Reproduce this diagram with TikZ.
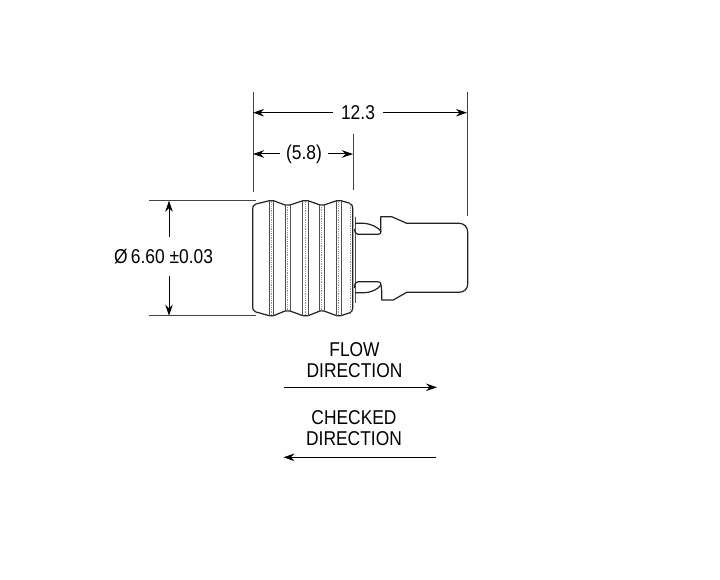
\documentclass[tikz,border=0pt]{standalone}
\usepackage{fontspec}
\setmainfont[FakeStretch=0.87]{Liberation Sans}
\usetikzlibrary{arrows.meta}
\definecolor{ink}{HTML}{222222}
\tikzset{
  outline/.style={draw=ink,line width=1.2pt,line join=round},
  rib/.style={draw=ink!80,line width=1pt},
  hatch/.style={draw=ink!50,line width=0.8pt,densely dotted},
  ext/.style={draw=ink!85,line width=1pt},
  dimline/.style={draw=black,line width=1pt,-{Stealth[length=11pt,width=7.5pt]}},
  dimtext/.style={font=\fontsize{20}{21}\selectfont,inner ysep=0pt,inner xsep=6pt,align=center,text=black}
}
\begin{document}
\begin{tikzpicture}[x=1pt,y=-1pt]
\useasboundingbox[fill=white] (0,0) rectangle (720,580);
% connector body
\draw[outline,fill=white] (252.7,210) .. controls (252.7,206) and (253.5,205) .. (256,204)
 -- (269.3,200.7) -- (273.5,200.7) -- (285,205) -- (290,205) -- (303,200.7) -- (308,200.7)
 -- (320,205) -- (324,205) -- (336.7,200.7) -- (341,200.7) -- (349,203) .. controls (351.5,204) and (352.7,205) .. (352.7,208)
 -- (352.7,308) .. controls (352.7,311) and (351.5,312) .. (349,313) -- (341,315.7) -- (336.7,315.7) -- (324,311) -- (320,311)
 -- (308,315.7) -- (303,315.7) -- (290,311) -- (285,311) -- (273.5,315.7) -- (269.3,315.7) -- (256,312)
 .. controls (253.5,311) and (252.7,310) .. (252.7,306) -- cycle;
\foreach \x/\ya in {269.3/200.7,273.3/200.7,285.2/205,290/205,302.7/200.7,308/200.7,319.5/205,324/205,336.5/200.7,341/200.7}{
  \pgfmathsetmacro{\yb}{516.4-\ya}
  \draw[rib] (\x,\ya) -- (\x,\yb);
}
\foreach \x/\ya in {271.3/200.7,287.6/205,305.3/200.7,321.8/205,338.8/200.7,350/203}{
  \pgfmathsetmacro{\yb}{516.4-\ya}
  \draw[hatch] (\x,\ya) -- (\x,\yb);
}
\draw[rib] (355.2,217) -- (355.2,303);
% latch tabs
\draw[outline] (355,223.3) -- (364,223.3) .. controls (372,224) and (379,228) .. (381,231.5)
 .. controls (381,233.5) and (380,234.3) .. (378,234.3) -- (358,234.3) .. controls (355.5,234.3) and (354.5,232) .. (354.5,229);
\draw[outline] (354.5,288) .. controls (354.5,284) and (355.5,281.7) .. (358,281.7) -- (378,281.7)
 .. controls (380,281.7) and (381,283) .. (381,285) .. controls (378,289) and (372,292.5) .. (364,292.7) -- (355,292.7);
% plug
\draw[outline] (380.7,231.5) -- (380.7,216.7) -- (391.7,216.7) -- (406.7,223.3) -- (459,223.3)
 .. controls (464,223.3) and (467.7,227) .. (467.7,232) -- (467.7,284)
 .. controls (467.7,289) and (464,292.3) .. (459,292.3) -- (406.7,292.3) -- (393.3,300) -- (381.7,300) -- (381.7,291) .. controls (381.7,288) and (381,286) .. (381,285);
% extension lines
\coordinate (extLa) at (253,92);   \coordinate (extLb) at (253,192);
\coordinate (extMa) at (353,134);  \coordinate (extMb) at (353,190);
\coordinate (extRa) at (467,92);   \coordinate (extRb) at (467,216);
\coordinate (extTa) at (149,200.7);\coordinate (extTb) at (256,200.7);
\coordinate (extBa) at (149,315.7);\coordinate (extBb) at (256,315.7);
\draw[ext] (extLa) -- (extLb);
\draw[ext] (extMa) -- (extMb);
\draw[ext] (extRa) -- (extRb);
\draw[ext] (extTa) -- (extTb);
\draw[ext] (extBa) -- (extBb);
% dimension 12.3
\node[dimtext,inner xsep=8pt] (lenAll) at (358,112.7) {12.3};
\coordinate (lenAllL) at (253,112.7);
\coordinate (lenAllR) at (467,112.7);
\draw[dimline] (lenAll) -- (lenAllL);
\draw[dimline] (lenAll) -- (lenAllR);
% dimension (5.8)
\node[dimtext] (lenBody) at (304,154) {(5.8)};
\coordinate (lenBodyL) at (253,154);
\coordinate (lenBodyR) at (353,154);
\draw[dimline] (lenBody) -- (lenBodyL);
\draw[dimline] (lenBody) -- (lenBodyR);
% diameter
\node[dimtext,inner sep=0pt] (dia) at (163.5,257) {Ø\,6.60 ±0.03};
\coordinate (diaT) at (169,200.7);
\coordinate (diaB) at (169,315.7);
\coordinate (diaA) at (169,237);
\coordinate (diaC) at (169,276);
\draw[dimline] (diaA) -- (diaT);
\draw[dimline] (diaC) -- (diaB);
% direction labels
\node[dimtext] (flow) at (354.5,360) {FLOW\\DIRECTION};
\node[dimtext] (chk) at (354,428) {CHECKED\\DIRECTION};
\coordinate (flowA) at (283.5,387.3); \coordinate (flowB) at (437,387.3);
\coordinate (chkA) at (435.5,457.3);  \coordinate (chkB) at (283.5,457.3);
\draw[dimline] (flowA) -- (flowB);
\draw[dimline] (chkA) -- (chkB);
\end{tikzpicture}
\end{document}
